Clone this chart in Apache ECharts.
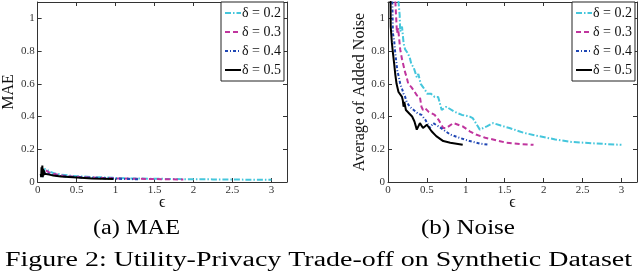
<!DOCTYPE html>
<html><head><meta charset="utf-8">
<script src="https://cdn.jsdelivr.net/npm/echarts@6/dist/echarts.min.js"></script>
<style>html,body{margin:0;padding:0;background:#fff}#c{width:640px;height:272px}</style>
</head><body><div id="c"></div>
<script>
const seriesNames = ['δ = 0.2', 'δ = 0.3', 'δ = 0.4', 'δ = 0.5'];
const xTicks = [0, 0.5, 1, 1.5, 2, 2.5, 3];
const yTicks = [0, 0.2, 0.4, 0.6, 0.8, 1];

const mae02 = [[0.08,0.05],[0.09,0.08],[0.1,0.07],[0.12,0.075],[0.15,0.065],[0.2,0.055],[0.25,0.05],[0.3,0.045],[0.4,0.04],[0.5,0.035],[0.6,0.033],[0.7,0.03],[0.85,0.028],[1.0,0.025],[1.2,0.022],[1.5,0.02],[1.75,0.018],[2.0,0.017],[2.25,0.016],[2.5,0.015],[2.75,0.014],[3.0,0.013]];
const mae03 = [[0.07,0.04],[0.08,0.075],[0.09,0.065],[0.11,0.07],[0.15,0.058],[0.2,0.05],[0.3,0.04],[0.4,0.035],[0.55,0.03],[0.7,0.027],[0.85,0.025],[1.0,0.022],[1.2,0.02],[1.5,0.018],[1.87,0.015]];
const mae04 = [[0.06,0.03],[0.065,0.08],[0.07,0.06],[0.08,0.065],[0.1,0.055],[0.15,0.048],[0.2,0.042],[0.3,0.036],[0.5,0.03],[0.7,0.025],[1.0,0.02],[1.15,0.018],[1.3,0.017]];
const mae05 = [[0.04,0.05],[0.045,0.03],[0.05,0.09],[0.055,0.035],[0.06,0.1],[0.065,0.03],[0.07,0.08],[0.075,0.04],[0.08,0.07],[0.09,0.05],[0.1,0.055],[0.15,0.045],[0.2,0.04],[0.3,0.034],[0.5,0.027],[0.7,0.022],[0.97,0.018]];

const noise02 = [[0.12,1.25],[0.135,1.1],[0.15,1.02],[0.157,0.92],[0.18,0.95],[0.2,0.85],[0.22,0.81],[0.25,0.79],[0.28,0.76],[0.3,0.72],[0.33,0.70],[0.35,0.67],[0.37,0.64],[0.39,0.66],[0.42,0.6],[0.45,0.58],[0.48,0.56],[0.5,0.54],[0.55,0.54],[0.6,0.52],[0.645,0.52],[0.69,0.44],[0.75,0.46],[0.85,0.43],[0.95,0.41],[1.05,0.40],[1.09,0.39],[1.18,0.32],[1.27,0.34],[1.35,0.36],[1.45,0.345],[1.56,0.33],[1.75,0.30],[1.94,0.28],[2.15,0.26],[2.36,0.245],[2.62,0.237],[2.8,0.232],[3.0,0.227]];
const noise03 = [[0.08,1.25],[0.1,1.05],[0.115,0.91],[0.13,0.94],[0.157,0.81],[0.18,0.75],[0.22,0.67],[0.24,0.64],[0.26,0.60],[0.3,0.58],[0.33,0.56],[0.37,0.53],[0.41,0.52],[0.43,0.46],[0.45,0.44],[0.48,0.45],[0.52,0.43],[0.6,0.41],[0.65,0.38],[0.71,0.33],[0.75,0.33],[0.84,0.36],[0.96,0.34],[1.05,0.31],[1.13,0.29],[1.25,0.27],[1.35,0.26],[1.52,0.24],[1.7,0.232],[1.87,0.227]];
const noise04 = [[0.05,1.25],[0.063,0.91],[0.08,0.86],[0.093,0.79],[0.11,0.72],[0.12,0.68],[0.14,0.64],[0.157,0.60],[0.18,0.57],[0.2,0.54],[0.22,0.52],[0.24,0.49],[0.28,0.46],[0.33,0.44],[0.38,0.42],[0.43,0.41],[0.48,0.38],[0.54,0.33],[0.58,0.36],[0.65,0.34],[0.71,0.32],[0.8,0.29],[0.92,0.27],[1.05,0.25],[1.18,0.235],[1.3,0.227]];
const noise05 = [[0.03,1.25],[0.035,0.95],[0.05,0.85],[0.063,0.79],[0.08,0.72],[0.093,0.66],[0.11,0.60],[0.135,0.55],[0.15,0.56],[0.18,0.52],[0.19,0.50],[0.2,0.46],[0.21,0.49],[0.23,0.44],[0.27,0.42],[0.31,0.40],[0.34,0.37],[0.37,0.32],[0.41,0.36],[0.45,0.33],[0.5,0.35],[0.56,0.31],[0.62,0.28],[0.71,0.25],[0.8,0.24],[0.96,0.227]];

const maeData = [mae02, mae03, mae04, mae05];
const noiseData = [noise02, noise03, noise04, noise05];
const colors = ['#45c6dc', '#c0359e', '#1f46b4', '#000000'];
const dashes = [[6,2,1.5,2], [5,3], [3,2,1,2], 'solid'];
const FONT = "'Liberation Serif','DejaVu Serif',serif";

function xAx(gi, top) {
  return {
    type: 'value', gridIndex: gi, min: 0, max: 3.2, interval: 0.5,
    position: top ? 'top' : 'bottom',
    name: top ? '' : 'ϵ', nameLocation: 'middle', nameGap: 13, nameMoveOverlap: false,
    nameTextStyle: {fontFamily: FONT, fontSize: 16, color: '#111'},
    axisLine: {show: true, onZero: false, lineStyle: {color: '#333', width: 1}},
    axisTick: {show: true, inside: true, length: 4, lineStyle: {color: '#333'}},
    axisLabel: {show: !top, showMaxLabel: false, margin: 3, fontFamily: FONT, fontSize: 11, color: '#333'},
    splitLine: {show: false}
  };
}
function yAx(gi, right, name) {
  return {
    type: 'value', gridIndex: gi, min: 0, max: 1.1, interval: 0.2,
    position: right ? 'right' : 'left',
    name: right ? '' : name, nameLocation: 'middle', nameGap: 18,
    nameTextStyle: {fontFamily: FONT, fontSize: 16, color: '#111'},
    axisLine: {show: true, onZero: false, lineStyle: {color: '#333', width: 1}},
    axisTick: {show: true, inside: true, length: 4, lineStyle: {color: '#333'}},
    axisLabel: {show: !right, showMaxLabel: false, margin: 3, fontFamily: FONT, fontSize: 11, color: '#333'},
    splitLine: {show: false}
  };
}

const series = [];
[maeData, noiseData].forEach((set, gi) => {
  set.forEach((d, i) => {
    series.push({
      name: seriesNames[i], type: 'line', xAxisIndex: gi * 2, yAxisIndex: gi * 2,
      data: d, symbol: 'none', clip: true, animation: false,
      lineStyle: {color: colors[i], width: 2, type: dashes[i]},
      itemStyle: {color: colors[i]}
    });
  });
});

function legend(left) {
  return {
    orient: 'vertical', left: left, top: 2, data: seriesNames,
    backgroundColor: '#fff', borderColor: '#222', borderWidth: 1,
    padding: [4, 3, 4, 3], itemGap: 5, itemWidth: 16, itemHeight: 14,
    itemStyle: {opacity: 0},
    textStyle: {fontFamily: FONT, fontSize: 14, color: '#111', padding: [0, 0, 0, -4]}
  };
}

// text width measurement for stretched caption text (layout only)
const mctx = document.createElement('canvas').getContext('2d');
function stretch(text, px, target) {
  mctx.font = px + 'px ' + FONT;
  return target / mctx.measureText(text).width;
}
function caption(text, cx, y, px, targetW) {
  const s = stretch(text, px, targetW);
  return {type: 'text', x: cx, y: y, scaleX: s, scaleY: 1,
    style: {text: text, font: px + 'px ' + FONT, fill: '#000', textAlign: 'center', textVerticalAlign: 'middle'}};
}

const chart = echarts.init(document.getElementById('c'), null, {renderer: 'canvas'});
chart.setOption({
  animation: false,
  grid: [
    {left: 34, top: 2, width: 253, height: 180},
    {left: 388, top: 2, width: 249, height: 180}
  ],
  xAxis: [xAx(0, false), xAx(0, true), xAx(1, false), xAx(1, true)],
  yAxis: [yAx(0, false, 'MAE'), yAx(0, true), yAx(1, false, 'Average of Added Noise'), yAx(1, true)],
  legend: [legend(221), legend(572)],
  series: series,
  graphic: [
    caption('(a) MAE', 136.5, 229, 20, 87),
    caption('(b) Noise', 468, 229, 20, 94),
    caption('Figure 2: Utility-Privacy Trade-off on Synthetic Dataset', 318.5, 261, 20, 627)
  ]
});
</script>
</body></html>
